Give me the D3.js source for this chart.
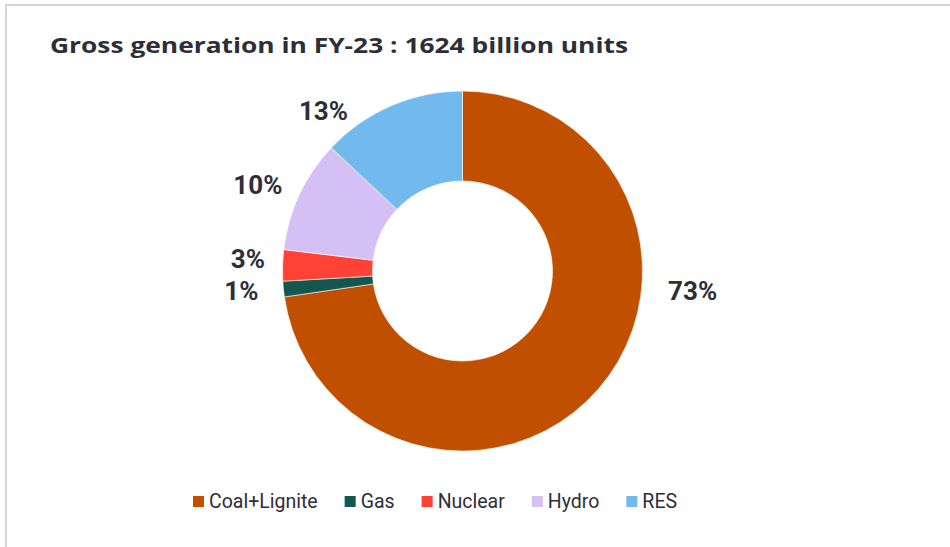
<!DOCTYPE html>
<html>
<head>
<meta charset="utf-8">
<script src="https://cdn.jsdelivr.net/npm/d3@7"></script>
<style>
  body { margin: 0; background: #fff; }
  #chart { width: 950px; height: 547px; }
</style>
</head>
<body>
<div id="chart"></div>
<script>
// values (share of gross generation, %)
const categories = ["Coal+Lignite", "Gas", "Nuclear", "Hydro", "RES"];
const shares = [72.7, 1.4, 2.8, 10.1, 13.0];
const labels = ["73%", "1%", "3%", "10%", "13%"];
const colors = ["#c05000", "#13574f", "#ff4136", "#d5c0f6", "#72b9ee"];

function donut_chart() {
    const container = document.getElementById("chart");
    const width = container.offsetWidth, height = container.offsetHeight;
    const textColor = "#2e2e38";

    const svg = d3.select("#chart").append("svg")
        .attr("width", width)
        .attr("height", height);

    // frame (top + left edges visible)
    svg.append("line").attr("x1", 6).attr("x2", width).attr("y1", 5).attr("y2", 5)
        .attr("stroke", "#d5d4de").attr("stroke-width", 2);
    svg.append("line").attr("x1", 6).attr("x2", 6).attr("y1", 4).attr("y2", height)
        .attr("stroke", "#d5d4de").attr("stroke-width", 2);

    const title = svg.append("text")
        .attr("x", 50).attr("y", 53)
        .style("font-family", "'Open Sans', sans-serif")
        .style("font-weight", "bold")
        .style("font-size", "22px")
        .style("fill", textColor)
        .text("Gross generation in FY-23 : 1624 billion units");
    title.attr("textLength", 578).attr("lengthAdjust", "spacingAndGlyphs");

    const cx = 462.5, cy = 271, outerR = 180, innerR = 90;

    const pie = d3.pie().sort(null).value(d => d)(shares);
    const arc = d3.arc().innerRadius(innerR).outerRadius(outerR);

    const g = svg.append("g").attr("transform", `translate(${cx},${cy})`);

    g.selectAll("path")
        .data(pie)
        .enter().append("path")
        .attr("d", arc)
        .attr("fill", (d, i) => colors[i])
        .attr("stroke", "#fff")
        .attr("stroke-width", 0.6);

    // label placement outside the ring: angle (deg from 12 o'clock) and radius
    const labelAngle = [95, 264.8, 273.2, 292.8, 319];
    const labelR = [231, 222, 215, 222, 212];
    g.selectAll("text.lbl")
        .data(pie)
        .enter().append("text")
        .attr("class", "lbl")
        .attr("x", (d, i) => Math.sin(labelAngle[i] * Math.PI / 180) * labelR[i])
        .attr("y", (d, i) => -Math.cos(labelAngle[i] * Math.PI / 180) * labelR[i])
        .attr("text-anchor", "middle")
        .attr("dominant-baseline", "central")
        .style("font-family", "Roboto, sans-serif")
        .style("font-weight", "bold")
        .style("font-size", "26px")
        .style("fill", textColor)
        .text((d, i) => labels[i]);

    // legend
    const legend = svg.append("g").attr("transform", "translate(193, 501)");
    let x = 0;
    categories.forEach((c, i) => {
        const item = legend.append("g").attr("transform", `translate(${x},0)`);
        item.append("rect")
            .attr("x", 0).attr("y", -5)
            .attr("width", 11).attr("height", 11)
            .attr("fill", colors[i]);
        const t = item.append("text")
            .attr("x", 16).attr("y", 0)
            .attr("dominant-baseline", "central")
            .style("font-family", "Roboto, sans-serif")
            .style("font-size", "19.5px")
            .style("fill", textColor)
            .text(c);
        x += 16 + t.node().getComputedTextLength() + 27;
    });
}

donut_chart();
</script>
</body>
</html>
